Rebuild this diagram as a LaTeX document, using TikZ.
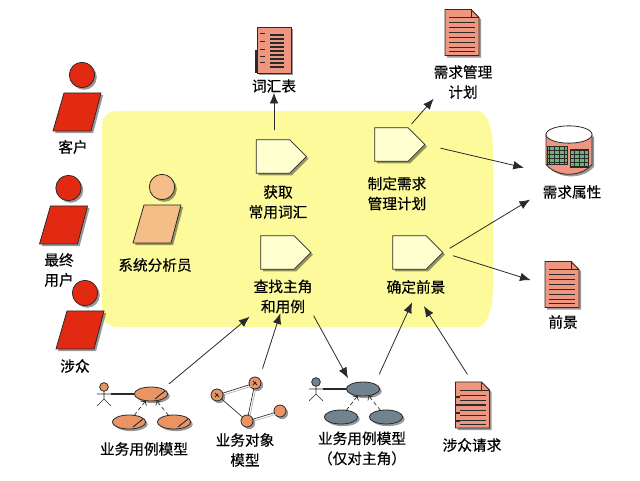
\documentclass[tikz,border=0pt]{standalone}
\usepackage{fontspec}
\usepackage{xcolor}
\usetikzlibrary{shapes.geometric,shapes.symbols,arrows.meta,shadows}
\newfontfamily\cjk[FakeBold=0.4]{Noto Sans CJK SC}

\definecolor{zonefill}{HTML}{FDFA9C}
\definecolor{taskfill}{HTML}{FFFFCF}
\definecolor{redfill}{HTML}{E22A12}
\definecolor{skinfill}{HTML}{F5BE88}
\definecolor{docfill}{HTML}{EE9680}
\definecolor{casefill}{HTML}{EA9464}
\definecolor{grayfill}{HTML}{71838F}
\definecolor{cellfill}{HTML}{6FB37A}
\definecolor{inkline}{HTML}{2A2A2A}

\tikzset{
	castshadow/.style={drop shadow={shadow xshift=1.6pt,shadow yshift=-1.6pt,fill=black,opacity=.4}},
	outline/.style={draw=inkline,line width=.6pt},
	flow/.style={-{Latex[length=8pt,width=6.5pt]},inkline,line width=.6pt},
	caption/.style={font=\cjk\fontsize{11}{15}\selectfont,align=center,inner sep=0pt,outer sep=0pt,text=black},
	task/.style={shape=signal,signal to=east,signal pointer angle=90,outline,fill=taskfill,castshadow,
		minimum width=37.5pt,minimum height=25pt,inner sep=0pt,outer sep=0pt},
	ball/.style={circle,outline,castshadow,minimum size=19pt,inner sep=0pt,outer sep=0pt},
	objdot/.style={circle,outline,fill=casefill,castshadow,minimum size=9pt,inner sep=0pt,outer sep=0pt},
	casebox/.style={ellipse,outline,castshadow,minimum width=25pt,minimum height=10.5pt,inner sep=0pt,outer sep=0pt},
	pics/actor/.style={code={
		\node[ball,fill=#1] (-head) at (0,0) {};
		\draw[outline,fill=#1,castshadow] (-18,18) -- (19,18) -- (9,56) -- (-29,56) -- cycle;
	}},
	pics/doc/.style={code={
		\node[inner sep=0pt,outer sep=0pt,minimum width=26pt,minimum height=34pt] (-box) at (0,0) {};
		\draw[outline,fill=docfill,castshadow] (-17,-23) -- (9,-23) -- (17,-15) -- (17,23) -- (-17,23) -- cycle;
		\draw[outline] (9,-23) -- (9,-15) -- (17,-15);
		\foreach \y in {-15,-10,-5,5,10,15,19}
			\draw[inkline,line width=.6pt] (-13,\y) -- (13,\y);
		\draw[inkline,line width=1.2pt] (-13,0) -- (13,0);
	}},
	pics/usecase/.style={code={
		\node[casebox,fill=#1] (-main) at (0,0) {};
		\node[casebox,fill=#1] (-left) at (-22,28) {};
		\node[casebox,fill=#1] (-right) at (23,28) {};
		\node[circle,outline,fill=#1,minimum size=6.5pt,inner sep=0pt] (-head) at (-47,-7) {};
		\coordinate (-hip) at (-47,5);
		\coordinate (-arm) at (-40,0);
		\draw[inkline,line width=.5pt] (-head) -- (-hip) (-54,0) -- (-arm)
			(-54,12) -- (-hip) -- (-40,12);
		\draw[inkline,line width=.8pt] (-arm) -- (-main);
		\draw[inkline,line width=.5pt,densely dashed,->] (-left) -- (-main);
		\draw[inkline,line width=.5pt,densely dashed,->] (-right) -- (-main);
	}},
	pics/store/.style={code={
		\node[inner sep=0pt,outer sep=0pt,minimum width=34.5pt,minimum height=35pt] (-box) at (0,15) {};
		\draw[outline,fill=docfill,castshadow] (-23,0) -- (-23,30) .. controls (-12,43) and (12,43) .. (23,30) -- (23,0) -- cycle;
		\node[ellipse,outline,fill=white,minimum width=34.5pt,minimum height=13pt,inner sep=0pt] (-lid) at (0,0) {};
		\draw[inkline,fill=cellfill,line width=.5pt,xstep=3.75pt,ystep=3pt] (-22,12) rectangle (-2,30) (-22,12) grid (-2,30);
		\draw[inkline,fill=cellfill,line width=.5pt,xstep=3.75pt,ystep=3pt] (1,15) rectangle (19,33) (1,15) grid (19,33);
	}}
}

\begin{document}
\begin{tikzpicture}[x=.75pt,y=-.75pt]
	\useasboundingbox (0,0) rectangle (640,481);

	% yellow zone of the workflow
	\fill[zonefill] (117,111) -- (478,111) .. controls (487,111) and (493,130) .. (493,150)
		-- (493,288) .. controls (493,308) and (487,327) .. (478,327) -- (117,327)
		.. controls (108,327) and (102,320) .. (102,312) -- (102,126)
		.. controls (102,117) and (108,111) .. (117,111) -- cycle;

	% roles
	\pic (client) at (82,75) {actor=redfill};
	\pic (user) at (68.5,188) {actor=redfill};
	\pic (holder) at (85,293) {actor=redfill};
	\pic (analyst) at (162,187) {actor=skinfill};
	\node[caption] (clientname) at (73,147) {客户};
	\node[caption] (username) at (59,270) {最终\\用户};
	\node[caption] (holdername) at (75,366) {涉众};
	\node[caption] (analystname) at (155,265) {系统分析员};

	% activities
	\node[task] (termtask) at (273,156.5) {};
	\node[task] (plantask) at (391.5,144.5) {};
	\node[task] (actortask) at (277.5,252.5) {};
	\node[task] (visiontask) at (409.5,252.5) {};
	\node[caption] (termtaskname) at (278,202) {获取\\常用词汇};
	\node[caption] (plantaskname) at (397,193.5) {制定需求\\管理计划};
	\node[caption] (actortaskname) at (283,296.5) {查找主角\\和用例};
	\node[caption] (visiontaskname) at (416,287) {确定前景};

	% artifacts
	\node[outline,fill=docfill,castshadow,minimum width=25.5pt,minimum height=34.5pt,inner sep=0pt,outer sep=0pt] (glossary) at (274,50) {};
	\foreach \y in {35,39,43,47,51,55,59,63,67}
		\draw[inkline,line width=1.1pt] (270,\y) -- (284,\y);
	\foreach \y in {33,41,49,56,62}
		\draw[inkline,line width=.6pt] (260,\y) -- (265,\y);
	\draw[inkline,line width=1.2pt] (glossary.west) ++(-1,0) -- ++(0,23);
	\node[caption] (glossaryname) at (274,86) {词汇表};
	\pic (planfile) at (462,32.5) {doc};
	\node[caption] (planfilename) at (463,82) {需求管理\\计划};
	\pic (attr) at (569,134.5) {store};
	\node[caption] (attrname) at (572,192) {需求属性};
	\pic (vision) at (562,284.5) {doc};
	\node[caption] (visionname) at (563,322) {前景};
	\pic (request) at (472.5,405) {doc};
	\foreach \y in {397,405,413,421}
		\draw[inkline,line width=.8pt] (455,\y) -- (460,\y);
	\node[caption] (requestname) at (472,445) {涉众请求};

	% business models
	\pic (bizcase) at (151,394) {usecase=casefill};
	\foreach \e in {main,left,right}
		\draw[inkline,line width=.7pt] (bizcase-\e.center) ++(4,5) -- ++(10,-8);
	\node[caption] (bizcasename) at (144,449) {业务用例模型};
	\node[objdot] (obja) at (217,395) {};
	\node[objdot] (objb) at (255,383) {};
	\node[objdot] (objc) at (247,421) {};
	\node[objdot] (objd) at (280,411) {};
	\foreach \o in {obja,objb}
		\draw[inkline,line width=.7pt] (\o.center) ++(-2,-2) -- ++(4,4) ++(-4,0) -- ++(3,-3);
	\draw[gray!60,line width=.5pt,transform canvas={shift={(1.2pt,-1.2pt)}}] (obja) -- (objb) (objb) -- (objc) (objc) -- (objd);
	\draw[inkline,line width=.5pt] (obja) -- (objb) (obja) -- (objc) (objb) -- (objc) (objc) -- (objd);
	\node[caption] (objname) at (245,450) {业务对象\\模型};
	\pic (keycase) at (363,389) {usecase=grayfill};
	\node[caption] (keycasename) at (362,448.5) {业务用例模型\\（仅对主角）};

	% flows between them
	\draw[flow,shorten <=7pt] (glossaryname.south |- termtask.north) -- (glossaryname.south);
	\draw[flow,shorten <=4pt] (plantask.north east) -- (planfilename.south west);
	\draw[flow,shorten <=12pt,shorten >=17pt] (plantask.east) -- (attr-box.south west);
	\draw[flow,shorten <=6pt,shorten >=11pt] (visiontask.east) -- (attrname.west);
	\draw[flow,shorten <=8pt,shorten >=11pt] (visiontask.east) -- (vision-box.west);
	\draw[flow,shorten <=6pt,shorten >=4pt] (bizcase-main.north east) -- (actortaskname.south west);
	\draw[flow,shorten <=8pt] (objb.north east) -- ([xshift=-2pt]actortaskname.south);
	\draw[flow,shorten <=2pt,shorten >=5pt] (actortaskname.south east) -- (keycase-main.north west);
	\draw[flow,shorten <=8pt,shorten >=7pt] (keycase-main.north east) -- (visiontaskname.south);
	\draw[flow,shorten <=7pt,shorten >=11pt] (request-box.north) -- (visiontaskname.south);
\end{tikzpicture}
\end{document}
